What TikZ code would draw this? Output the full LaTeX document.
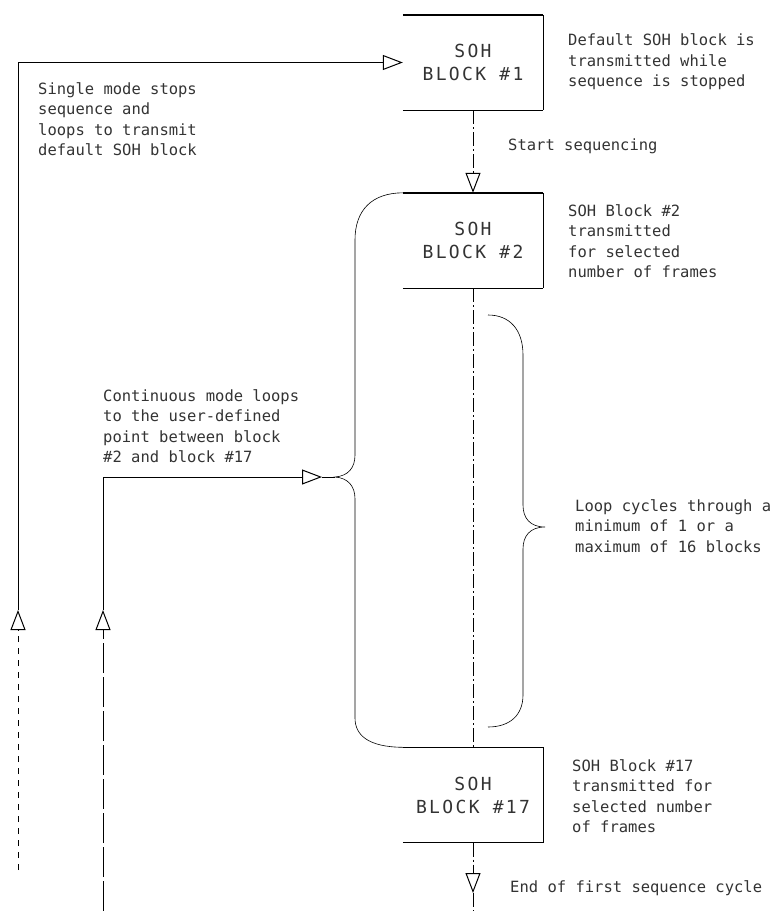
\documentclass[tikz,border=0pt]{standalone}
\usepackage{fontspec}
\newfontfamily\plotfont{DejaVu Sans Mono}
\usetikzlibrary{arrows.meta}

\tikzset{
  blk/.style={minimum width=140pt, minimum height=95pt, inner sep=0pt, align=center, text=black!80,
    font={\plotfont\fontsize{18}{23}\selectfont\addfontfeatures{LetterSpace=13}}},
  note/.style={anchor=west, align=left, inner sep=0pt, text=black!80,
    font={\plotfont\fontsize{15.5}{20.5}\selectfont}},
  flow/.style={line width=0.6pt, dash pattern=on 14pt off 3pt on 2pt off 3pt},
  brc/.style={line width=0.6pt},
  hd/.style={-{Triangle[open,length=20pt,width=15pt,line width=1pt]}},
}

\begin{document}
\begin{tikzpicture}[x=1pt,y=-1pt]
  \useasboundingbox (0,0) rectangle (772,911);

  \node[blk] (b1) at (473,62.5) {SOH\\BLOCK \#1};
  \node[blk] (b2) at (473,240.5) {SOH\\BLOCK \#2};
  \node[blk] (b17) at (473,795) {SOH\\BLOCK \#17};
  \foreach \b in {b1,b2,b17} {
    \draw[line width=1.4pt] (\b.north west) -- (\b.north east);
    \draw[line width=1.4pt] (\b.south west) -- (\b.south east);
    \draw[line width=0.6pt] (\b.north east) -- (\b.south east);
  }

  \node[note] (ndef) at (568,62) {Default SOH block is\\transmitted while\\sequence is stopped};
  \node[note] (nsingle) at (38,119) {Single mode stops\\sequence and\\loops to transmit\\default SOH block};
  \node[note] (nstart) at (508,146) {Start sequencing};
  \node[note] (nb2) at (568,241) {SOH Block \#2\\transmitted\\for selected\\number of frames};
  \node[note] (ncont) at (103,426) {Continuous mode loops\\to the user-defined\\point between block\\\#2 and block \#17};
  \node[note] (nloop) at (575,526) {Loop cycles through a\\minimum of 1 or a\\maximum of 16 blocks};
  \node[note] (nb17) at (572,796) {SOH Block \#17\\transmitted for\\selected number\\of frames};
  \node[note] (nend) at (510,888) {End of first sequence cycle};

  \coordinate (lbot) at (18,870);
  \coordinate (lup) at (18,610);
  \coordinate (ltop) at (18,62.5);
  \coordinate (cbot) at (103,911);
  \coordinate (cup) at (103,610);
  \coordinate (ccorner) at (103,477);
  \coordinate (cin) at (322,477);
  \coordinate (lbtip) at (335,477);
  \coordinate (rtop) at (488,315);
  \coordinate (rtip) at (545,527);
  \coordinate (rbot) at (488,727);
  \coordinate (eend) at (473,893);
  \coordinate (ebot) at (473,911);

  \draw[flow,hd] (b1.south) -- (b2.north);
  \draw[flow] (b2.south) -- (b17.north);
  \draw[flow,hd] (b17.south) -- (eend);
  \draw[flow] (eend) -- (ebot);

  \draw[line width=0.6pt,dash pattern=on 6pt off 6pt,hd] (lbot) -- (lup);
  \draw[line width=0.6pt] (lup) -- (ltop);
  \draw[line width=0.6pt,hd] (ltop) -- (b1.west);

  \draw[line width=0.6pt,dash pattern=on 30pt off 4pt,hd] (cbot) -- (cup);
  \draw[line width=0.6pt] (cup) -- (ccorner);
  \draw[line width=0.6pt,hd] (ccorner) -- (cin);
  \draw[brc] (cin) -- (lbtip);

  \draw[brc] (b2.north west) .. controls (372,193) and (355,210) .. (355,240) -- (355,455)
    .. controls (355,468) and (348,476) .. (lbtip)
    .. controls (348,478) and (355,486) .. (355,499) -- (355,718)
    .. controls (355,735) and (368,747) .. (b17.north west);
  \draw[brc] (rtop) .. controls (510,315) and (523,330) .. (523,355) -- (523,505)
    .. controls (523,518) and (530,527) .. (rtip)
    .. controls (530,527) and (523,536) .. (523,549) -- (523,695)
    .. controls (523,715) and (510,727) .. (rbot);
\end{tikzpicture}
\end{document}
